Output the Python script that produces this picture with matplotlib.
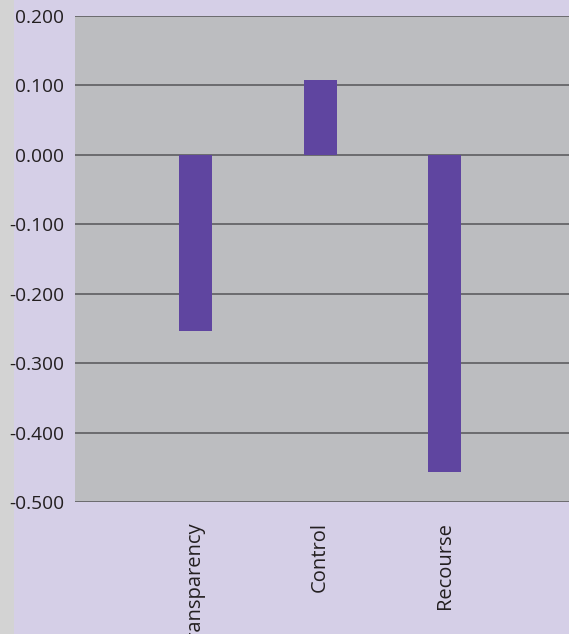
import matplotlib
matplotlib.use("Agg")
import matplotlib.pyplot as plt
from matplotlib.patches import Rectangle

categories = ["Transparency", "Control", "Recourse"]
values = [-0.253, 0.108, -0.457]
yticks = [0.2, 0.1, 0.0, -0.1, -0.2, -0.3, -0.4, -0.5]
ytick_labels = ["0.200", "0.100", "0.000", "-0.100", "-0.200", "-0.300", "-0.400", "-0.500"]

plt.rcParams['font.family'] = ['Open Sans', 'DejaVu Sans']

W, H = 569, 634
fig = plt.figure(figsize=(W / 100, H / 100), dpi=100)
fig.patch.set_facecolor("#d5cfe7")
fig.patches.append(Rectangle((0, 0), 14 / W, 1, transform=fig.transFigure,
                             facecolor="#d3d3d3", edgecolor="none", zorder=-10))

left, right = 75 / W, 1.0
bottom, top = 1 - 502 / H, 1 - 16 / H
ax = fig.add_axes([left, bottom, right - left, top - bottom])
ax.set_zorder(5)
ax.set_facecolor("#bcbdc0")

xs = list(range(len(categories)))
ax.bar(xs, values, width=0.265, color="#5f45a0", zorder=3)

ax.set_xlim(-0.968, 3.0)
ax.set_ylim(-0.5, 0.2)
ax.set_yticks(yticks)
ax.set_yticklabels(ytick_labels, color="#231f20", fontsize=13.8)
ax.yaxis.grid(True, color="#555558", linewidth=1.1, zorder=1)
ax.set_axisbelow(True)
ax.set_xticks(xs)
ax.set_xticklabels(categories, rotation=90, ha="center", va="top",
                   color="#231f20", fontsize=14.5)
ax.tick_params(axis="y", length=0, pad=8)
ax.tick_params(axis="x", length=0, pad=14.5)
for s in ax.spines.values():
    s.set_visible(False)

fig.savefig("out.png", dpi=100, facecolor=fig.get_facecolor())
